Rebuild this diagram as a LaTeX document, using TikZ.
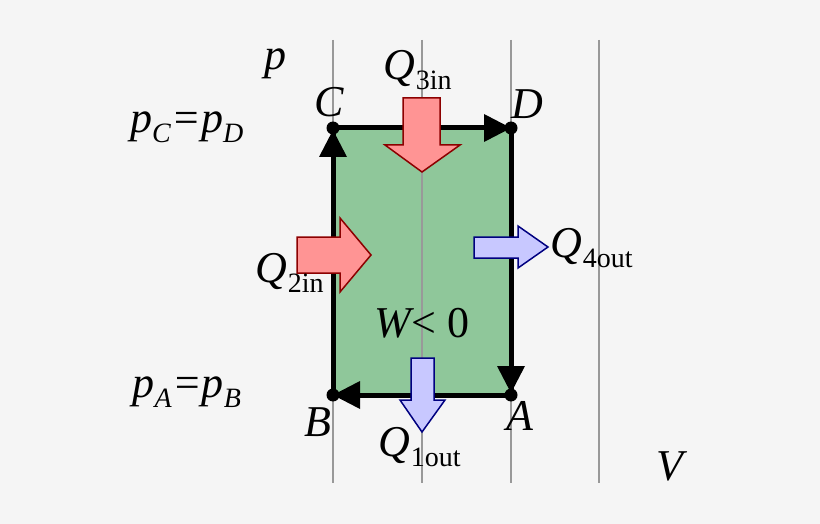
\documentclass[tikz,border=0pt]{standalone}
\usepackage{fontspec}
\setmainfont{Liberation Serif}
\usetikzlibrary{arrows.meta}
\definecolor{bg}{HTML}{F5F5F5}
\definecolor{work}{HTML}{8FC79A}
\definecolor{heatin}{HTML}{FF9494}
\definecolor{heatout}{HTML}{C8C8FF}
\newcommand{\sub}[1]{\textsubscript{\fontsize{28}{28}\selectfont #1}}
\tikzset{
  grid line/.style={draw=gray!80, line width=2pt},
  cycle/.style={line width=5pt},
  state/.style={circle, fill=black, inner sep=0pt, minimum size=13pt},
  dir/.style={fill=black},
  qin/.style={fill=heatin, draw=red!55!black, line width=1.5pt},
  qout/.style={fill=heatout, draw=blue!50!black, line width=1.5pt},
  lab/.style={font=\fontsize{44}{44}\selectfont\itshape, inner sep=0pt},
}
\begin{document}
\begin{tikzpicture}[x=1pt,y=-1pt]
\useasboundingbox[fill=bg] (0,0) rectangle (820,524);
% isochores
\foreach \x in {333,422,511,599}
  \draw[grid line] (\x,40) -- (\x,483);
\fill[work] (333,128) rectangle (511,395);
\draw[grid line] (422,128) -- (422,395);
% states
\coordinate (A) at (511,395);
\coordinate (B) at (333,395);
\coordinate (C) at (333,128);
\coordinate (D) at (511,128);
\draw[cycle] (A) -- (B) -- (C) -- (D) -- cycle;
\foreach \p in {A,B,C,D}
  \node[state] at (\p) {};
% direction marks
\fill[dir] (333,130) -- (347,157) -- (319,157) -- cycle;
\fill[dir] (511,128) -- (484,114) -- (484,142) -- cycle;
\fill[dir] (511,393) -- (497,366) -- (525,366) -- cycle;
\fill[dir] (333,395) -- (360,381) -- (360,409) -- cycle;
% heat arrows
\draw[qin] (403,98) -- (440,98) -- (440,145) -- (460,145) -- (422,172) -- (385,145) -- (403,145) -- cycle;
\draw[qin] (297,237) -- (340,237) -- (340,218) -- (371,255) -- (340,292) -- (340,273) -- (297,273) -- cycle;
\draw[qout] (474,237) -- (518,237) -- (518,226) -- (548,247) -- (518,268) -- (518,258) -- (474,258) -- cycle;
\draw[qout] (411,358) -- (434,358) -- (434,400) -- (445,400) -- (422,432) -- (400,400) -- (411,400) -- cycle;
% labels
\node[lab] (lp) at (275,64) {p};
\node[lab] (lV) at (670,466) {V};
\node[lab] (lC) at (329,102) {C};
\node[lab] (lD) at (527,104) {D};
\node[lab] (lB) at (318,422) {B};
\node[lab] (lA) at (520,416) {A};
\node[lab] (lCD) at (187,127) {p\sub{C}=p\sub{D}};
\node[lab] (lAB) at (187,392) {p\sub{A}=p\sub{B}};
\node[lab] (l3) at (418,70) {Q\sub{\upshape 3in}};
\node[lab] (l2) at (290,273) {Q\sub{\upshape 2in}};
\node[lab] (l4) at (592,248) {Q\sub{\upshape 4out}};
\node[lab] (l1) at (420,447) {Q\sub{\upshape 1out}};
\node[lab] (lW) at (422,323) {W{\upshape< 0}};
\end{tikzpicture}
\end{document}
